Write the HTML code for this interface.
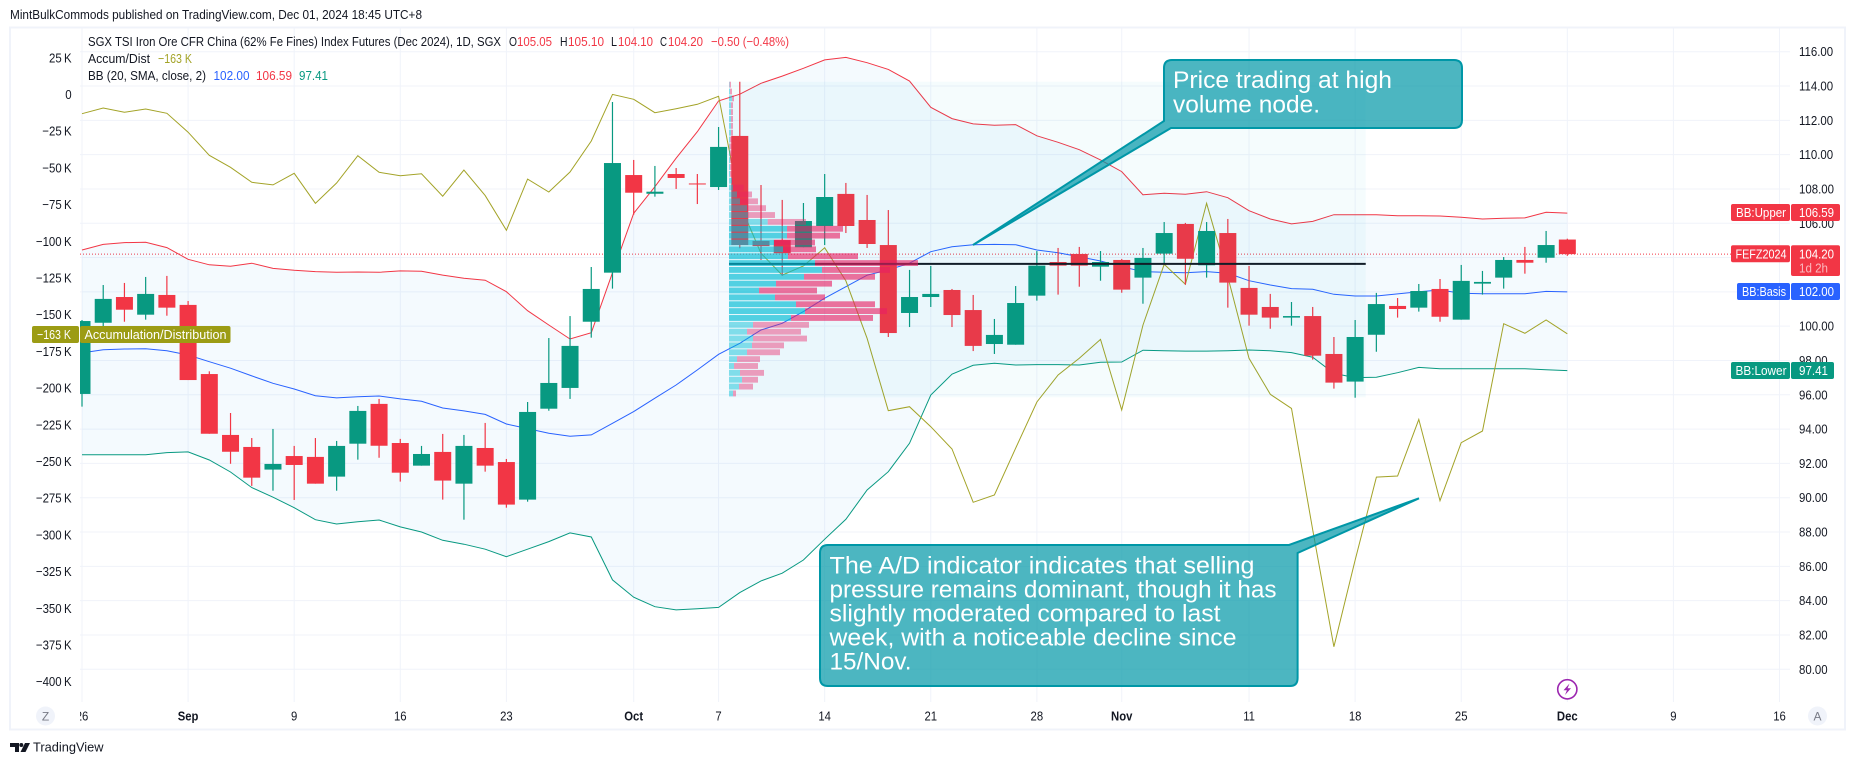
<!DOCTYPE html>
<html lang="en">
<head>
<meta charset="utf-8">
<title>SGX TSI Iron Ore Futures chart</title>
<style>
html,body{margin:0;padding:0;background:#fff;}
svg{display:block;font-family:"Liberation Sans",Arial,sans-serif;}
text{font-size:13px;fill:#131722;}
.w{fill:#fff;}
.r{fill:#f23645;}
.note{font-size:24px;fill:#fff;}
</style>
</head>
<body>
<svg id="chart" xmlns="http://www.w3.org/2000/svg" width="1854" height="765" viewBox="0 0 1854 765">
  <defs>
    <clipPath id="pane"><rect x="80" y="28" width="1710" height="674"/></clipPath>
    <clipPath id="timeclip"><rect x="80" y="703" width="1710" height="26"/></clipPath>
  </defs>
  <rect x="0" y="0" width="1854" height="765" fill="#fff"/>
  <text x="10" y="19" textLength="412" lengthAdjust="spacingAndGlyphs">MintBulkCommods published on TradingView.com, Dec 01, 2024 18:45 UTC+8</text>
  <rect x="10" y="27.5" width="1835" height="702" fill="none" stroke="#f0f3fa" stroke-width="2"/>
  <g id="grid"></g>
  <g id="plot" clip-path="url(#pane)"></g>
  <g id="overlay" clip-path="url(#pane)"></g>

  <path d="M1172 60H1454Q1462 60 1462 68V120Q1462 128 1454 128H1171L973 245L1164 121V68Q1164 60 1172 60Z" fill="rgba(0,151,167,.7)" stroke="#0097a7" stroke-width="2"/>
  <text class="note" x="1173" y="88" textLength="219" lengthAdjust="spacingAndGlyphs">Price trading at high</text>
  <text class="note" x="1173" y="112.5" textLength="147" lengthAdjust="spacingAndGlyphs">volume node.</text>

  <path d="M828 545H1289L1419 498.3L1297.6 553V678Q1297.6 686 1290 686H828Q820 686 820 678V553Q820 545 828 545Z" fill="rgba(0,151,167,.7)" stroke="#0097a7" stroke-width="2"/>
  <text class="note" x="829.5" y="573.5" textLength="425" lengthAdjust="spacingAndGlyphs">The A/D indicator indicates that selling</text>
  <text class="note" x="829.5" y="597.5" textLength="447" lengthAdjust="spacingAndGlyphs">pressure remains dominant, though it has</text>
  <text class="note" x="829.5" y="621.5" textLength="391" lengthAdjust="spacingAndGlyphs">slightly moderated compared to last</text>
  <text class="note" x="829.5" y="645.5" textLength="407" lengthAdjust="spacingAndGlyphs">week, with a noticeable decline since</text>
  <text class="note" x="829.5" y="669.5" textLength="82" lengthAdjust="spacingAndGlyphs">15/Nov.</text>

  <g>
    <text x="88" y="46" textLength="413" lengthAdjust="spacingAndGlyphs">SGX TSI Iron Ore CFR China (62% Fe Fines) Index Futures (Dec 2024), 1D, SGX</text>
    <text x="509" y="46" textLength="8" lengthAdjust="spacingAndGlyphs">O</text>
    <text class="r" x="517" y="46" textLength="35" lengthAdjust="spacingAndGlyphs">105.05</text>
    <text x="560" y="46" textLength="7.5" lengthAdjust="spacingAndGlyphs">H</text>
    <text class="r" x="568" y="46" textLength="36" lengthAdjust="spacingAndGlyphs">105.10</text>
    <text x="611" y="46" textLength="6" lengthAdjust="spacingAndGlyphs">L</text>
    <text class="r" x="618" y="46" textLength="35" lengthAdjust="spacingAndGlyphs">104.10</text>
    <text x="660" y="46" textLength="7" lengthAdjust="spacingAndGlyphs">C</text>
    <text class="r" x="668" y="46" textLength="35" lengthAdjust="spacingAndGlyphs">104.20</text>
    <text class="r" x="711" y="46" textLength="78" lengthAdjust="spacingAndGlyphs">−0.50 (−0.48%)</text>
    <text x="88" y="63" textLength="62" lengthAdjust="spacingAndGlyphs">Accum/Dist</text>
    <text x="158" y="63" textLength="34" lengthAdjust="spacingAndGlyphs" style="fill:#a3a327">−163 K</text>
    <text x="88" y="80" textLength="118" lengthAdjust="spacingAndGlyphs">BB (20, SMA, close, 2)</text>
    <text x="213.5" y="80" textLength="36" lengthAdjust="spacingAndGlyphs" style="fill:#2962ff">102.00</text>
    <text x="256" y="80" textLength="36" lengthAdjust="spacingAndGlyphs" style="fill:#f23645">106.59</text>
    <text x="299" y="80" textLength="29" lengthAdjust="spacingAndGlyphs" style="fill:#089981">97.41</text>
  </g>

  <g id="leftAxis"></g>
  <g id="rightAxis"></g>
  <g id="timeAxis" clip-path="url(#timeclip)"></g>

  <g>
    <rect x="32" y="326" width="47" height="17" rx="2" fill="#9c9c14"/>
    <text class="w" x="37" y="339" textLength="34" lengthAdjust="spacingAndGlyphs">−163 K</text>
    <rect x="80" y="326" width="150.5" height="17" rx="2" fill="#9c9c14"/>
    <text class="w" x="84.5" y="339" textLength="142" lengthAdjust="spacingAndGlyphs">Accumulation/Distribution</text>
  </g>

  <g>
    <rect x="1731" y="204" width="59" height="17" rx="2" fill="#f23645"/>
    <text class="w" x="1736" y="217" textLength="50" lengthAdjust="spacingAndGlyphs">BB:Upper</text>
    <rect x="1791" y="204" width="49" height="17" rx="2" fill="#f23645"/>
    <text class="w" x="1799" y="217" textLength="35" lengthAdjust="spacingAndGlyphs">106.59</text>

    <rect x="1731" y="245.3" width="59" height="17" rx="2" fill="#f23645"/>
    <text class="w" x="1735.5" y="258.5" textLength="51" lengthAdjust="spacingAndGlyphs">FEFZ2024</text>
    <rect x="1791" y="245.3" width="49" height="30.7" rx="2" fill="#f23645"/>
    <text class="w" x="1799" y="258.5" textLength="35" lengthAdjust="spacingAndGlyphs">104.20</text>
    <text x="1799" y="272.5" textLength="29" lengthAdjust="spacingAndGlyphs" style="fill:#fbb8be">1d 2h</text>

    <rect x="1737" y="283" width="53" height="17" rx="2" fill="#2962ff"/>
    <text class="w" x="1742" y="296" textLength="44" lengthAdjust="spacingAndGlyphs">BB:Basis</text>
    <rect x="1791" y="283" width="49" height="17" rx="2" fill="#2962ff"/>
    <text class="w" x="1799" y="296" textLength="35" lengthAdjust="spacingAndGlyphs">102.00</text>

    <rect x="1731" y="362" width="59" height="17" rx="2" fill="#089981"/>
    <text class="w" x="1735.5" y="375" textLength="51" lengthAdjust="spacingAndGlyphs">BB:Lower</text>
    <rect x="1791" y="362" width="43" height="17" rx="2" fill="#089981"/>
    <text class="w" x="1799" y="375" textLength="29" lengthAdjust="spacingAndGlyphs">97.41</text>
  </g>

  <g>
    <circle cx="45.5" cy="716" r="9.5" fill="#f0f3fa"/>
    <text x="45.5" y="720.5" text-anchor="middle" style="font-size:12px;fill:#787b86">Z</text>
  </g>
  <g>
    <circle cx="1817.5" cy="716" r="9.5" fill="#f0f3fa"/>
    <text x="1817.5" y="720.5" text-anchor="middle" style="font-size:12px;fill:#787b86">A</text>
  </g>
  <g>
    <circle cx="1567.3" cy="689.3" r="9.6" fill="#fff" stroke="#9c27b0" stroke-width="1.6"/>
    <polygon points="1569.5,683.5 1563.5,690.3 1566.9,690.3 1565,695 1571,688.3 1567.6,688.3" fill="#9c27b0"/>
  </g>

  <g>
    <polygon points="10,743 19,743 19,752 15,752 15,747 10,747" fill="#131722"/>
    <circle cx="21.3" cy="745" r="2" fill="#131722"/>
    <polygon points="25,743 30,743 25.5,752 20.5,752" fill="#131722"/>
    <text x="33" y="751.5" textLength="70.5" lengthAdjust="spacingAndGlyphs">TradingView</text>
  </g>
</svg>

<script>
// Time axis
const tickLabels = ["26","Sep","9","16","23","Oct","7","14","21","28","Nov","11","18","25","Dec","9","16"];
const tickBars = [0,5,10,15,20,26,30,35,40,45,49,55,60,65,70,75,80];
const boldTicks = ["Sep","Oct","Nov","Dec"];
// Axis ticks
const priceTicks = [116,114,112,110,108,106,104,102,100,98,96,94,92,90,88,86,84,82,80];
const adTicks = [25,0,-25,-50,-75,-100,-125,-150,-175,-200,-225,-250,-275,-300,-325,-350,-375,-400];
// OHLC per daily bar
const opens = [96.05,100.20,101.70,100.67,101.82,101.24,97.21,93.66,92.96,91.64,92.43,92.38,91.23,93.15,95.47,93.19,91.87,92.67,90.82,92.90,92.08,89.89,95.19,96.40,100.26,103.12,108.81,107.72,108.87,108.32,108.11,111.09,104.97,105.02,104.60,105.84,107.71,106.19,104.73,100.77,101.70,102.11,100.94,98.96,98.92,101.78,103.74,104.21,103.47,103.86,102.83,104.23,105.96,103.55,105.43,102.23,101.12,100.50,100.59,98.38,96.77,99.50,101.18,101.08,102.17,100.38,102.48,102.83,103.86,103.99,105.05];
const highs = [100.36,102.40,102.52,102.87,102.93,101.47,97.37,94.94,93.48,94.01,93.02,93.48,93.31,95.35,95.76,93.43,93.02,93.72,93.66,94.36,92.26,95.58,99.31,100.59,103.45,113.07,109.69,109.34,109.22,108.87,111.61,114.25,108.23,107.36,107.18,108.87,108.35,107.65,106.77,103.28,103.51,102.17,101.82,100.42,102.34,104.38,104.56,104.62,104.38,103.92,104.56,106.07,106.02,106.07,106.25,103.51,101.88,101.41,101.12,99.37,100.36,101.94,101.64,102.46,102.75,103.57,103.22,104.03,104.62,105.55,105.10];
const lows = [95.31,100.01,100.26,100.38,100.61,96.86,93.73,91.98,90.69,90.41,89.87,90.82,90.41,92.22,92.33,90.94,91.87,89.89,88.72,91.52,89.42,89.77,95.07,95.76,99.33,102.19,106.50,107.55,108.00,107.12,107.94,104.54,103.86,102.94,104.60,104.73,105.43,104.56,99.37,99.95,101.12,99.95,98.55,98.38,98.92,101.49,101.84,102.30,102.65,101.95,101.31,103.63,102.42,102.83,101.08,100.03,99.85,100.03,98.05,96.36,95.83,98.51,100.50,100.85,100.26,100.38,101.84,102.19,103.06,103.70,104.10];
const closes = [100.30,101.59,100.96,101.88,101.08,96.86,93.73,92.68,91.17,91.97,91.91,90.82,93.02,95.06,93.03,91.46,92.55,91.00,93.02,91.87,89.60,95.00,96.69,98.85,102.17,109.51,107.78,107.84,108.64,108.26,110.45,104.73,104.67,104.25,106.13,107.53,105.84,104.79,99.60,101.70,101.88,100.65,98.85,99.49,101.35,103.53,103.53,103.53,103.74,102.13,103.98,105.43,103.93,105.55,102.54,100.67,100.50,100.59,98.28,96.71,99.37,101.29,101.00,102.05,100.55,102.64,102.58,103.86,103.70,104.73,104.20];
// Bollinger bands
const bbUpper = [104.44,104.77,104.87,104.89,104.58,103.90,103.58,103.49,103.67,103.37,103.26,103.18,103.14,103.16,103.14,103.22,103.20,102.98,102.79,102.68,102.01,100.90,100.07,99.25,99.62,103.12,106.58,108.13,109.79,111.34,113.13,113.52,114.16,114.58,115.03,115.52,115.67,115.36,114.97,114.29,112.76,112.10,111.79,111.71,111.75,111.10,110.72,110.29,109.69,109.01,107.66,107.75,107.69,107.84,107.49,106.73,106.25,105.96,106.11,106.50,106.50,106.50,106.44,106.44,106.42,106.35,106.25,106.29,106.31,106.64,106.59];
const bbBasis = [98.44,98.63,98.67,98.69,98.57,98.32,97.93,97.55,97.10,96.67,96.34,95.95,95.82,95.89,95.93,95.76,95.62,95.23,95.06,94.86,94.30,94.03,93.76,93.58,93.66,94.34,95.02,95.80,96.57,97.45,98.36,99.00,99.78,100.17,100.85,101.63,102.30,102.97,103.28,103.67,104.34,104.63,104.75,104.77,104.75,104.44,104.28,104.05,103.80,103.47,103.18,103.14,103.12,103.18,103.08,102.65,102.40,102.19,102.15,101.86,101.76,101.76,101.88,102.01,102.11,101.92,101.89,101.89,101.89,102.03,102.00];
const bbLower = [92.51,92.51,92.51,92.51,92.63,92.67,92.20,91.50,90.59,90.03,89.42,88.72,88.47,88.60,88.70,88.30,88.00,87.52,87.29,87.00,86.56,87.00,87.44,87.95,87.71,85.21,84.20,83.65,83.46,83.53,83.61,84.47,85.15,85.60,86.37,87.58,88.74,90.45,91.52,93.17,95.99,97.20,97.72,97.84,97.74,97.76,97.76,97.74,97.90,97.91,98.60,98.57,98.55,98.55,98.57,98.61,98.57,98.46,98.19,97.25,97.00,97.02,97.29,97.60,97.52,97.52,97.52,97.52,97.52,97.46,97.41];
// Accumulation/Distribution, thousands
const adLine = [-13.1,-9.2,-12.1,-9.9,-12.8,-25.7,-41.4,-49.6,-59.8,-61.6,-53.7,-74.1,-60.3,-41.7,-53.0,-55.3,-54.0,-69.3,-51.4,-68.9,-92.5,-57.6,-66.4,-52.8,-31.7,0.1,-3.3,-12.4,-9.7,-6.7,-1.2,-74.6,-108.2,-123.0,-116.8,-104.4,-127.0,-166.1,-215.4,-212.7,-226.3,-241.5,-277.8,-272.8,-241.0,-209.5,-191.1,-179.7,-166.8,-214.9,-157.0,-115.7,-129.3,-74.1,-124.1,-179.7,-204.2,-213.8,-296.5,-376.2,-317.3,-260.6,-259.9,-221.3,-276.7,-237.2,-229.2,-156.1,-162.7,-153.6,-163.0];
// Volume profile rows, top row first
const vpUp = [0.5,1,3,2,2,2,2,2,1,0.5,1,1,1,1,3,4,8,11,18,19,38.7,58,58,45,54,59,86,93,75,47,30,46,67,76,62,24,18,24,23,18,8,5,11,13,10,4];
const vpDown = [1.5,2,2,2,2,2,2,2,2,2,2,1.5,1.5,1.5,1,10.7,15,18,19,27,38.3,56,53,41,33,70,103,68,71,56,58,50,79,82,82,56,54,54,32,33,23,24,24,16,14,3];
const vpHigh = 114.25;
const vpRowSize = 0.4;
const vpLastBar = 60;
const vpValueAreaFirst = 21;
const vpValueAreaLast = 34;
const pocPrice = 103.63;
const lastPrice = 104.20;

const NS = "http://www.w3.org/2000/svg";
function xScale(i){ return 82 + 21.219 * i; }
function yPrice(p){ return 51.7 + (116 - p) * 17.155; }
function yAD(v){ return 94.5 - v / 25 * 36.7; }
function make(tag, attrs, parent){
  const el = document.createElementNS(NS, tag);
  for (const k in attrs) el.setAttribute(k, attrs[k]);
  parent.appendChild(el);
  return el;
}
function squeeze(t, f){
  t.setAttribute("textLength", (t.getComputedTextLength() * f).toFixed(1));
  t.setAttribute("lengthAdjust", "spacingAndGlyphs");
}
function fmtAD(v){
  if (v === 0) return "0";
  return (v < 0 ? "\u2212" : "") + Math.abs(v) + "\u2009K";
}

const grid = document.getElementById("grid");
const plot = document.getElementById("plot");
const overlay = document.getElementById("overlay");
const leftAxis = document.getElementById("leftAxis");
const rightAxis = document.getElementById("rightAxis");
const timeAxis = document.getElementById("timeAxis");

priceTicks.forEach(function(p){
  const y = yPrice(p);
  const line = make("line", {x1:80, x2:1790, y1:y, y2:y, stroke:"#f0f3fa", "stroke-width":1}, grid);
  
  
  const t = make("text", {x:1799, y:y + 4.5}, rightAxis);
  t.textContent = p.toFixed(2);
  
  
  squeeze(t, 0.88);
});

adTicks.forEach(function(v){
  const t = make("text", {x:71.6, y:yAD(v) + 4.5, "text-anchor":"end"}, leftAxis);
  t.textContent = fmtAD(v);
  
  
  squeeze(t, 0.88);
});

tickBars.forEach(function(b, n){
  const x = xScale(b);
  const line = make("line", {x1:x, x2:x, y1:28, y2:702, stroke:"#f0f3fa", "stroke-width":1}, grid);
  
  
  const label = tickLabels[n];
  const t = make("text", {x:x, y:720.5, "text-anchor":"middle"}, timeAxis);
  t.textContent = label;
  if (boldTicks.indexOf(label) >= 0) t.setAttribute("font-weight", "600");
  
  
  squeeze(t, 0.87);
});

const priceLine = make("line", {x1:80, x2:1731, y1:yPrice(lastPrice), y2:yPrice(lastPrice), stroke:"#f23645", "stroke-width":1, "stroke-dasharray":"1 2"}, plot);



const upperPts = bbUpper.map(function(v, i){ return xScale(i).toFixed(1) + "," + yPrice(v).toFixed(1); });
const lowerPts = bbLower.map(function(v, i){ return xScale(i).toFixed(1) + "," + yPrice(v).toFixed(1); });
const basisPts = bbBasis.map(function(v, i){ return xScale(i).toFixed(1) + "," + yPrice(v).toFixed(1); });
const adPts = adLine.map(function(v, i){ return xScale(i).toFixed(1) + "," + yAD(v).toFixed(1); });

const bbFill = make("polygon", {points:upperPts.concat(lowerPts.slice().reverse()).join(" "), fill:"rgba(33,150,243,.05)"}, plot);



const upperLine = make("polyline", {points:upperPts.join(" "), fill:"none", stroke:"#f23645", "stroke-width":1}, plot);



const basisLine = make("polyline", {points:basisPts.join(" "), fill:"none", stroke:"#2962ff", "stroke-width":1}, plot);



const lowerLine = make("polyline", {points:lowerPts.join(" "), fill:"none", stroke:"#089981", "stroke-width":1}, plot);



const adPolyline = make("polyline", {points:adPts.join(" "), fill:"none", stroke:"#a3a327", "stroke-width":1}, plot);



opens.forEach(function(o, i){
  const c = closes[i];
  const color = c >= o ? "#089981" : "#f23645";
  const x = xScale(i);
  const top = yPrice(Math.max(o, c));
  const bot = yPrice(Math.min(o, c));
  const wick = make("line", {x1:x, x2:x, y1:yPrice(highs[i]), y2:yPrice(lows[i]), stroke:color, "stroke-width":1.2}, plot);
  
  
  const body = make("rect", {x:x - 8.5, y:top, width:17, height:Math.max(bot - top, 1), fill:color}, plot);
  
  
});

const vpLeft = 729;
const vpRight = xScale(vpLastBar) + 10.6;
const pocLine = make("line", {x1:vpLeft, x2:vpRight, y1:yPrice(pocPrice), y2:yPrice(pocPrice), stroke:"#131722", "stroke-width":2}, overlay);



const vpBottom = vpHigh - vpRowSize * vpUp.length;
const vpBox = make("rect", {x:vpLeft, y:yPrice(vpHigh), width:vpRight - vpLeft, height:yPrice(vpBottom) - yPrice(vpHigh), fill:"rgba(0,188,212,.04)"}, overlay);



vpUp.forEach(function(u, k){
  const d = vpDown[k];
  const y = yPrice(vpHigh - vpRowSize * k);
  const h = vpRowSize * 17.155 - 1;
  const inVA = k >= vpValueAreaFirst && k <= vpValueAreaLast;
  const upBar = make("rect", {x:vpLeft, y:y, width:u, height:h, fill:inVA ? "rgba(0,188,212,.65)" : "rgba(0,188,212,.45)"}, overlay);
  
  
  const downBar = make("rect", {x:vpLeft + u, y:y, width:d, height:h, fill:inVA ? "rgba(233,30,99,.62)" : "rgba(233,30,99,.42)"}, overlay);
  
  
});
</script>
</body>
</html>
